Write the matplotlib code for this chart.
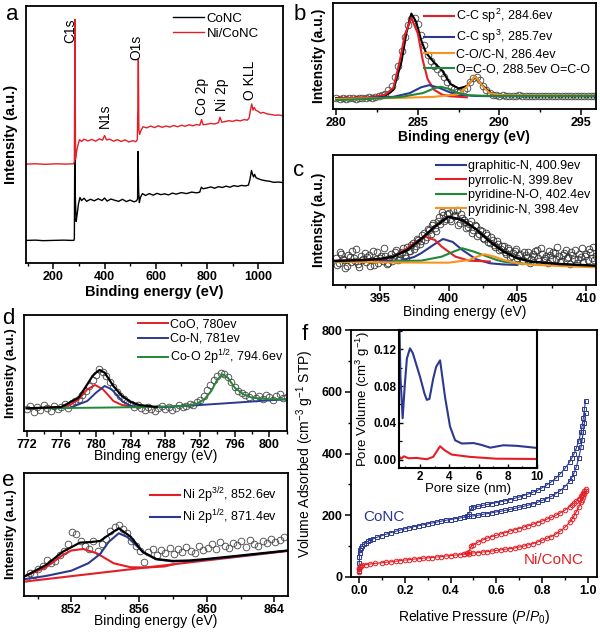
import matplotlib
matplotlib.use('Agg')
import matplotlib.pyplot as plt
import numpy as np
from matplotlib.ticker import MultipleLocator, FormatStrFormatter

plt.rcParams['font.family'] = ['Liberation Sans', 'DejaVu Sans']
plt.rcParams['mathtext.fontset'] = 'custom'
plt.rcParams['mathtext.rm'] = 'Liberation Sans'
plt.rcParams['mathtext.it'] = 'Liberation Sans:italic'
plt.rcParams['mathtext.bf'] = 'Liberation Sans:bold'

RED = '#e41e26'
BLUE = '#2b3990'
GREEN = '#23873a'
ORANGE = '#f7941d'

# ---- panel a: survey spectra (binding energy, intensity a.u.)
a_conc = [(95, 8.8), (130, 8.9), (160, 8.7), (200, 8.8), (240, 8.9), (270, 8.8), (280, 8.8), (282, 9.5),
          (283.5, 41.5), (286, 25), (289, 16.2), (293, 19), (298, 23), (304, 25.5), (310, 24.3), (320, 25.2),
          (330, 24.0), (345, 24.8), (360, 24.2), (375, 25.0), (390, 24.3), (400, 25.3), (410, 24.1),
          (425, 24.9), (440, 24.4), (455, 24.0), (470, 24.8), (485, 23.9), (500, 24.5), (515, 23.8),
          (525, 24.2), (529, 25), (531, 43.4), (533, 28), (536, 23.5), (540, 25.5), (548, 27), (560, 26.3),
          (575, 27), (590, 26.4), (605, 27.1), (620, 26.6), (635, 26.9), (650, 26.5), (665, 27.2),
          (680, 26.8), (700, 27.4), (720, 27.0), (740, 27.6), (760, 27.3), (772, 27.6), (778, 29.5),
          (785, 28.9), (800, 29.2), (815, 29.6), (830, 29.1), (845, 29.7), (860, 29.4), (875, 29.9),
          (890, 29.5), (905, 30.1), (920, 29.8), (935, 30.2), (950, 30.0), (962, 30.3), (968, 32.5),
          (974, 36.0), (978, 34.5), (982, 33.5), (986, 34.5), (992, 33.2), (1000, 32.8), (1015, 32.3),
          (1030, 32.0), (1045, 31.8), (1060, 31.4), (1080, 31.5), (1097, 31.3)]
a_niconc = [(95, 38.5), (130, 38.6), (170, 38.4), (210, 38.6), (250, 38.5), (279, 38.6), (282, 39.5),
            (284.6, 94.8), (286.5, 40.4), (290, 43), (295, 45.5), (302, 48), (310, 47.3), (320, 48.2),
            (335, 47.5), (350, 48.1), (365, 47.4), (380, 48.3), (392, 47.8), (400, 49.6), (408, 47.9),
            (420, 48.2), (435, 47.4), (450, 48.0), (465, 47.3), (480, 47.9), (495, 47.1), (510, 47.6),
            (522, 47.2), (528, 48.0), (530, 60), (532, 79.3), (534, 52), (537, 50), (542, 51.5), (550, 53),
            (565, 52.6), (580, 53.3), (595, 52.7), (610, 53.4), (625, 52.8), (640, 53.3), (655, 52.9),
            (670, 53.5), (685, 53.0), (700, 53.6), (715, 53.2), (730, 53.8), (745, 53.4), (760, 53.9),
            (772, 53.6), (779, 55.8), (785, 53.8), (800, 54.0), (815, 54.3), (830, 54.1), (845, 54.6),
            (851, 56.7), (858, 54.8), (870, 55.0), (885, 55.4), (900, 55.1), (915, 55.6), (930, 55.3),
            (945, 55.8), (958, 55.6), (965, 56.5), (970, 59.5), (975, 61.9), (980, 59.5), (985, 60.5),
            (990, 59.5), (1000, 59.0), (1010, 58.3), (1020, 58.6), (1035, 58.0), (1050, 57.8),
            (1065, 57.5), (1080, 57.6), (1097, 57.3)]
a_peaks = [('C1s', 265, 85.5), ('N1s', 401, 52.5), ('O1s', 525, 79), ('Co 2p', 779, 57.6),
           ('Ni 2p', 857, 59), ('O KLL', 967, 63.5)]

# ---- panel b: C 1s
b_circ = [10.5, 9.8, 10.4, 9.6, 10.2, 10.8, 9.9, 10.3, 10.6, 10.0, 10.9, 10.4, 11.2, 11.8, 12.9, 14.5,
          17.5, 22, 30, 41, 55, 68, 79, 85, 86, 80, 70, 60, 51, 45, 41, 38, 34, 30, 25, 21, 18.5, 16.5,
          16, 17.5, 20, 25, 29, 30, 27, 22, 17.5, 15, 13.5, 12.8, 12.5, 12.9, 12.2, 12.6, 11.9, 12.4,
          12.8, 12.0, 12.5, 11.8, 12.3, 12.7, 12.0, 12.4, 11.9, 12.6, 12.2, 11.8, 12.5, 12.1, 12.7,
          11.9, 12.3, 12.6, 11.8, 12.4, 12.1, 12.7, 11.9, 12.5, 12.2]
b_env = [(280, 10.3), (282, 10.5), (283, 12.5), (283.5, 18), (284, 45), (284.3, 72), (284.6, 90),
         (284.9, 82), (285.2, 65), (285.5, 53), (286, 43.7), (286.5, 36), (287, 23.5), (287.5, 19.4),
         (288, 21.5), (288.5, 30.6), (289, 21.5), (289.5, 14.7), (290, 12.5), (292, 12), (296, 12)]
b_sp2 = [(280, 10), (282, 10.8), (283, 13.5), (283.5, 20), (283.9, 46), (284.2, 70), (284.6, 86),
         (285.0, 71), (285.3, 46), (285.6, 28), (286, 18), (286.5, 13.5), (287, 12), (288, 11)]
b_sp3 = [(282, 10.5), (283.5, 11.5), (284.5, 15), (285.2, 20.5), (285.7, 22.5), (286.3, 20), (287, 15.5),
         (287.5, 13.5), (288.5, 12.3), (290, 12), (292, 12)]
b_co = [(280, 9.4), (284, 10.5), (286, 11.5), (287.5, 14), (288, 21), (288.5, 31), (289, 21),
        (289.4, 15), (290, 13.2), (291, 12.8), (296, 12.5)]
b_oco = [(280, 8.4), (282, 9.5), (284, 11.5), (285.3, 15), (286, 19.5), (286.4, 21), (286.9, 19),
         (287.5, 15), (288, 13), (289, 12.5), (290, 12.3), (296, 12.3)]
b_labels = ['C-C sp$^2$, 284.6ev', 'C-C sp$^3$, 285.7ev', 'C-O/C-N, 286.4ev', 'O=C-O, 288.5ev O=C-O']

# ---- panel c: N 1s (two interleaved scans of circles)
c_circ = [27, 22, 31, 25, 19, 28, 34, 24, 21, 29, 26,
          23, 30, 25, 20, 33, 27, 24, 29, 22, 31,
          28, 35, 26, 33, 30, 38, 34, 42, 39, 45,
          44, 52, 48, 55, 60, 57, 64, 61, 70, 66,
          72, 64, 69, 75, 62, 67, 63, 58, 64, 55,
          59, 51, 54, 46, 50, 42, 45, 38, 41, 36,
          39, 31, 35, 29, 34, 27, 31, 25, 30, 33,
          26, 29, 35, 24, 31, 27, 22, 30, 33, 26,
          29, 24, 32, 27, 21, 30, 35, 26, 28, 23, 31, 36, 27, 25]
c_circ2 = [20, 33, 26, 17, 30, 23, 27, 36, 18, 25, 32,
           28, 19, 34, 26, 22, 29, 37, 21, 27, 24,
           33, 25, 31, 37, 27, 34, 40, 36, 46, 41,
           50, 45, 56, 51, 62, 54, 68, 73, 64, 71,
           66, 74, 70, 60, 71, 65, 57, 61, 52, 60,
           49, 55, 47, 52, 43, 48, 40, 44, 35, 39,
           33, 37, 28, 32, 36, 30, 24, 33, 28, 22,
           31, 34, 27, 37, 25, 29, 34, 26, 32, 38,
           23, 30, 35, 28, 33, 26, 22, 31, 37, 29, 25, 33, 38, 29]
c_env = [(391.6, 24), (394, 25), (395, 26), (396, 28.3), (397, 35), (398, 46), (399, 58.3), (400, 68.3),
         (401, 65), (402, 55.7), (403, 43.3), (404, 33.3), (405, 26.7), (406, 23.3), (408, 21), (410.7, 19.3)]
c_graph = [(395, 24), (396.5, 24.3), (397.5, 28), (398, 31.7), (399, 41), (399.6, 46), (400.3, 43),
           (401, 35), (402, 25.7), (403, 21.7), (404, 20.5), (405, 20)]
c_pyrr = [(391.6, 24), (395, 25.7), (396, 28.3), (397, 36.7), (397.7, 44), (398.3, 48.3), (399, 45),
          (399.5, 38.3), (400.5, 28.3), (401.5, 24.3), (403, 23.5)]
c_pyno = [(396, 24), (398, 24.3), (399.5, 28.3), (400.3, 33), (401, 36.7), (401.8, 33.5), (402.5, 30),
          (403.5, 25), (404, 23.3), (405, 21.7), (406, 21)]
c_pyri = [(391.6, 23.3), (396, 22.5), (400, 22.3), (401.5, 25), (402, 28), (402.6, 30.7), (403.3, 28.5),
          (404, 25), (405, 21.7), (406, 20.3), (408, 19), (410.7, 17.7)]
c_labels = ['graphitic-N, 400.9ev', 'pyrrolic-N, 399.8ev', 'pyridine-N-O, 402.4ev', 'pyridinic-N, 398.4ev']

# ---- panel d: Co 2p
d_circ = [22, 25, 19, 24, 21, 26, 23, 20, 25, 22, 24, 27, 23, 28, 30, 32, 36, 40, 45, 51, 56, 62, 59,
          55, 49, 44, 39, 35, 32, 29, 27, 24, 26, 23, 21, 24, 22, 20, 23, 25, 22, 24, 21, 23, 26, 24,
          25, 27, 26, 29, 31, 35, 41, 46, 51, 55, 58, 57, 54, 49, 44, 40, 38, 36, 34, 37, 33, 35, 32,
          36, 34, 31, 35, 37, 33, 34]
d_env = [(772, 22.7), (776, 24), (778, 33.3), (779, 46.7), (779.6, 55), (780, 58.3), (780.4, 61),
         (781, 58.3), (781.5, 51.7), (782, 45), (783, 35), (784, 29), (785, 26), (787, 24)]
d_coo = [(774, 23.3), (776, 24), (777, 26), (778, 31.7), (779, 41.7), (779.9, 46), (780.8, 41.7),
         (781.5, 35), (782, 30), (783, 26), (784, 24.3)]
d_con = [(775, 22.7), (777, 23.3), (779, 30), (780, 38.3), (781, 45), (781.8, 41.7), (782.5, 35),
         (783, 30), (784, 25), (786, 24), (788, 24), (792, 26), (796, 28.3), (800, 30.7), (802, 31.7)]
d_co2p = [(772, 22.7), (780, 23.3), (786, 24), (790, 25), (791.5, 26.7), (792.5, 31.7), (793.3, 40),
          (794, 51.7), (794.6, 56.7), (795.2, 53.3), (796, 43.3), (797, 36.7), (798, 33.3), (800, 31.7),
          (802, 31.7)]
d_labels = ['CoO, 780ev', 'Co-N, 781ev', 'Co-O 2p$^{1/2}$, 794.6ev']

# ---- panel e: Ni 2p
e_circ = [18, 23, 21, 27, 30, 36, 33, 35, 41, 45, 52, 64, 62, 55, 50, 47, 55, 45, 52, 57, 65, 69, 71,
          67, 63, 55, 50, 45, 34, 44, 47, 41, 46, 43, 48, 42, 47, 44, 49, 45, 43, 50, 46, 48, 52, 47,
          54, 50, 48, 53, 51, 55, 49, 56, 52, 50, 55, 53, 57, 54, 56, 59]
e_base = [(849.2, 14.3), (864.8, 45)]
e_env = [(849.2, 19.3), (850.5, 31), (851.5, 44.3), (852.5, 53.3), (853.2, 54), (853.7, 55), (854.2, 61),
         (854.8, 67.7), (855.5, 59.3), (856.2, 44.3), (857, 37), (858, 35), (859, 35.5), (860, 37),
         (862, 40.5), (864.8, 45.5)]
e_p32 = [(849.2, 19.3), (850.5, 28.7), (851.5, 41), (852.0, 45.5), (852.7, 47), (853.5, 42.7),
         (854.5, 32.7), (855.5, 28.7), (856.5, 28.5), (857.5, 29.5), (858, 31.5)]
e_p12 = [(849.2, 16.7), (850.5, 20), (852, 25.3), (853, 32.7), (853.7, 42), (854.2, 54), (854.8, 62.7),
         (855.3, 59), (855.8, 51), (856.3, 43), (857, 36.7), (858, 34.5), (859, 35), (860, 36.5),
         (862, 40), (864.8, 45.3)]
e_labels = ['Ni 2p$^{3/2}$, 852.6ev', 'Ni 2p$^{1/2}$, 871.4ev']

# ---- panel f: N2 isotherms (P/P0, cm3/g)
f_conc_ads = [(0.0005, 20), (0.001, 45), (0.002, 65), (0.003, 78), (0.005, 88), (0.008, 95), (0.012, 100),
              (0.02, 106), (0.03, 111), (0.04, 116), (0.05, 120), (0.06, 123), (0.08, 129), (0.1, 134),
              (0.12, 139), (0.14, 144), (0.16, 148), (0.18, 152), (0.2, 156), (0.22, 159), (0.24, 163),
              (0.26, 166), (0.28, 169), (0.3, 172), (0.32, 175), (0.34, 178), (0.36, 181), (0.38, 184),
              (0.40, 186), (0.42, 189), (0.44, 191), (0.46, 194), (0.48, 196), (0.50, 198), (0.52, 200),
              (0.54, 203), (0.56, 205), (0.58, 208), (0.60, 211), (0.62, 213), (0.64, 216), (0.66, 219),
              (0.68, 222), (0.70, 226), (0.72, 229), (0.74, 233), (0.76, 237), (0.78, 242), (0.80, 248),
              (0.82, 254), (0.84, 261), (0.86, 270), (0.88, 280), (0.90, 293), (0.92, 310), (0.93, 322),
              (0.94, 338), (0.95, 358), (0.96, 385), (0.97, 420), (0.975, 445), (0.98, 470),
              (0.985, 500), (0.99, 530)]
f_conc_des = [(0.99, 571), (0.985, 545), (0.98, 515), (0.975, 490), (0.97, 470), (0.96, 440), (0.95, 418),
              (0.94, 400), (0.93, 385), (0.92, 372), (0.90, 352), (0.88, 335), (0.86, 320), (0.84, 308),
              (0.82, 298), (0.80, 289), (0.78, 281), (0.76, 275), (0.74, 269), (0.72, 264), (0.70, 259),
              (0.68, 255), (0.66, 251), (0.64, 247), (0.62, 244), (0.60, 241), (0.58, 238), (0.56, 235),
              (0.54, 232), (0.52, 229), (0.50, 226), (0.49, 222), (0.48, 205), (0.47, 198), (0.46, 195)]
f_ni_ads = [(0.0005, 15), (0.001, 25), (0.002, 30), (0.004, 33), (0.008, 36), (0.015, 38), (0.03, 40),
            (0.05, 42), (0.07, 44), (0.1, 46), (0.12, 48), (0.14, 49), (0.16, 51), (0.18, 53), (0.2, 55),
            (0.22, 56), (0.24, 58), (0.26, 59), (0.28, 61), (0.3, 62), (0.32, 63), (0.34, 65), (0.36, 66),
            (0.38, 68), (0.4, 69), (0.42, 71), (0.44, 72), (0.46, 74), (0.48, 76), (0.5, 78), (0.52, 79),
            (0.54, 81), (0.56, 82), (0.58, 84), (0.6, 86), (0.62, 88), (0.64, 90), (0.66, 92), (0.68, 94),
            (0.7, 97), (0.72, 100), (0.74, 104), (0.76, 108), (0.78, 113), (0.8, 119), (0.82, 125),
            (0.84, 131), (0.86, 139), (0.88, 149), (0.9, 161), (0.92, 177), (0.93, 187), (0.94, 198),
            (0.95, 212), (0.96, 226), (0.97, 242), (0.975, 251), (0.98, 260), (0.985, 270), (0.99, 278)]
f_ni_des = [(0.99, 285), (0.985, 280), (0.98, 273), (0.975, 267), (0.97, 262), (0.96, 254), (0.95, 247),
            (0.94, 240), (0.93, 234), (0.92, 228), (0.9, 217), (0.88, 208), (0.86, 200), (0.84, 193),
            (0.82, 187), (0.8, 181), (0.78, 176), (0.76, 171), (0.74, 166), (0.72, 162), (0.7, 157),
            (0.68, 153), (0.66, 149), (0.64, 144), (0.62, 140), (0.6, 135), (0.58, 131), (0.56, 126),
            (0.54, 120), (0.52, 113), (0.5, 104), (0.49, 100), (0.48, 82), (0.47, 77), (0.46, 75)]
# inset: pore size distribution (nm, cm3/g)
psd_conc = [(0.56, 0.17), (0.66, 0.09), (0.81, 0.045), (0.95, 0.08), (1.1, 0.11), (1.31, 0.121),
            (1.5, 0.116), (2.0, 0.09), (2.3, 0.072), (2.46, 0.065), (2.64, 0.066), (2.9, 0.088),
            (3.1, 0.101), (3.37, 0.108), (3.71, 0.068), (4.05, 0.036), (4.4, 0.021), (4.86, 0.0175),
            (5.66, 0.018), (6.2, 0.016), (6.8, 0.013), (7.7, 0.0156), (8.6, 0.015), (10.0, 0.0127)]
psd_ni = [(0.56, 0.0036), (0.7, 0.001), (0.9, 0.0036), (1.2, 0.0015), (1.77, 0.0018), (2.46, 0.0004),
          (2.9, 0.003), (3.37, 0.0145), (3.7, 0.010), (4.16, 0.0055), (5.4, 0.003), (7.2, 0.001),
          (10.0, 0.0007)]


def xy(pts):
    arr = np.array(pts, dtype=float)
    return arr[:, 0], arr[:, 1]


def style(ax, xlim, ylim, major, minor):
    ax.set_xlim(*xlim)
    ax.set_ylim(*ylim)
    ax.set_yticks([])
    ax.xaxis.set_major_locator(MultipleLocator(major))
    ax.xaxis.set_minor_locator(MultipleLocator(minor))
    ax.tick_params(axis='x', which='major', direction='out', length=4, width=1.1, labelsize=9, pad=1.5)
    ax.tick_params(axis='x', which='minor', direction='out', length=2.5, width=1.0)
    for lab in ax.get_xticklabels():
        lab.set_fontweight('bold')
    for s in ax.spines.values():
        s.set_linewidth(1.3)


def legend(ax, handles, labels, anchor, fs=9):
    ax.legend(handles, labels, loc='upper right', bbox_to_anchor=anchor, frameon=False, fontsize=fs,
              handlelength=2.4, handletextpad=0.15, labelspacing=0.2, borderpad=0, borderaxespad=0)


fig = plt.figure(figsize=(6.0, 6.33), dpi=100)

# a
ax = fig.add_axes([0.0433, 0.5845, 0.4283, 0.406])
x, y = xy(a_conc)
l1, = ax.plot(x, y, color='black', lw=1.0)
x, y = xy(a_niconc)
l2, = ax.plot(x, y, color=RED, lw=1.0)
for name, px, py in a_peaks:
    ax.text(px, py, name, rotation=90, ha='center', va='bottom', fontsize=10)
style(ax, (93, 1097), (0, 100), 200, 100)
ax.set_xlabel('Binding energy (eV)', fontsize=10.5, fontweight='bold', labelpad=2)
ax.set_ylabel('Intensity (a.u.)', fontsize=10.5, fontweight='bold', labelpad=6)
legend(ax, [l1, l2], ['CoNC', 'Ni/CoNC'], (0.905, 0.975), fs=9.5)

# b
ax = fig.add_axes([0.555, 0.8278, 0.438, 0.1675])
bx = 280 + 0.2 * np.arange(len(b_circ))
ax.plot(bx, b_circ, 'o', mfc='none', mec='#444444', ms=4.8, mew=0.6)
x, y = xy(b_env)
ax.plot(x, y, color='black', lw=1.5)
hs = []
for pts, c in [(b_sp2, RED), (b_sp3, BLUE), (b_co, ORANGE), (b_oco, GREEN)]:
    x, y = xy(pts)
    h, = ax.plot(x, y, color=c, lw=1.5)
    hs.append(h)
style(ax, (279.8, 295.9), (0, 100), 5, 2.5)
ax.set_xlabel('Binding energy (eV)', fontsize=10, fontweight='bold', labelpad=1)
ax.set_ylabel('Intensity (a.u.)', fontsize=10, fontweight='bold', labelpad=5)
legend(ax, hs, b_labels, (0.977, 0.96))

# c
ax = fig.add_axes([0.555, 0.5498, 0.438, 0.2054])
cx = 391.8 + 0.2 * np.arange(len(c_circ))
ax.plot(cx, c_circ, 'o', mfc='none', mec='#333333', ms=4.8, mew=0.6)
cx2 = 391.9 + 0.2 * np.arange(len(c_circ2))
ax.plot(cx2, c_circ2, 'o', mfc='none', mec='#333333', ms=4.8, mew=0.6)
hs = []
for pts, c in [(c_graph, BLUE), (c_pyrr, RED), (c_pyno, GREEN), (c_pyri, ORANGE)]:
    x, y = xy(pts)
    h, = ax.plot(x, y, color=c, lw=1.5)
    hs.append(h)
x, y = xy(c_env)
ax.plot(x, y, color='black', lw=1.8)
style(ax, (391.6, 410.7), (0, 130), 5, 2.5)
ax.set_xlabel('Binding energy (eV)', fontsize=10, labelpad=0)
ax.set_ylabel('Intensity (a.u.)', fontsize=10, fontweight='bold', labelpad=5)
legend(ax, hs, c_labels, (0.977, 0.96))

# d
ax = fig.add_axes([0.04, 0.3191, 0.438, 0.1833])
dx = 772 + 0.4 * np.arange(len(d_circ))
ax.plot(dx, d_circ, 'o', mfc='none', mec='#444444', ms=4.8, mew=0.6)
hs = []
for pts, c in [(d_coo, RED), (d_con, BLUE), (d_co2p, GREEN)]:
    x, y = xy(pts)
    h, = ax.plot(x, y, color=c, lw=1.4)
    hs.append(h)
x, y = xy(d_env)
ax.plot(x, y, color='black', lw=1.6)
style(ax, (771.7, 802), (0, 116), 4, 2)
ax.set_xlabel('Binding energy (eV)', fontsize=10, labelpad=-1)
ax.set_ylabel('Intensity (a.u.)', fontsize=9.5, fontweight='bold', labelpad=5)
legend(ax, hs, d_labels, (0.985, 0.97))

# e
ax = fig.add_axes([0.04, 0.0585, 0.44, 0.1943])
ex = 849.3 + 0.25 * np.arange(len(e_circ))
ax.plot(ex, e_circ, 'o', mfc='none', mec='#444444', ms=4.8, mew=0.6)
x, y = xy(e_base)
ax.plot(x, y, color=RED, lw=1.5)
hs = []
for pts, c in [(e_p32, RED), (e_p12, BLUE)]:
    x, y = xy(pts)
    h, = ax.plot(x, y, color=c, lw=1.5)
    hs.append(h)
x, y = xy(e_env)
ax.plot(x, y, color='black', lw=1.6)
style(ax, (849.2, 864.8), (0, 123), 4, 2)
ax.set_xlabel('Binding energy (eV)', fontsize=10, labelpad=-1)
ax.set_ylabel('Intensity (a.u.)', fontsize=9.5, fontweight='bold', labelpad=5)
legend(ax, hs, e_labels, (0.958, 0.9))

# f
ax = fig.add_axes([0.585, 0.0885, 0.41, 0.390])
for pts, c, m in [(f_conc_ads, BLUE, 's'), (f_conc_des, BLUE, 's'), (f_ni_ads, RED, 'o'), (f_ni_des, RED, 'o')]:
    x, y = xy(pts)
    ax.plot(x, y, color=c, marker=m, mfc='none', mec=c, ms=3.3, mew=0.7, lw=0.8)
ax.set_xlim(-0.035, 1.04)
ax.set_ylim(0, 800)
ax.xaxis.set_major_locator(MultipleLocator(0.2))
ax.xaxis.set_minor_locator(MultipleLocator(0.1))
ax.yaxis.set_major_locator(MultipleLocator(200))
ax.yaxis.set_minor_locator(MultipleLocator(100))
ax.tick_params(which='major', direction='out', length=4, width=1.1, labelsize=9, pad=2)
ax.tick_params(which='minor', direction='out', length=2.5, width=1.0)
for lab in ax.get_xticklabels() + ax.get_yticklabels():
    lab.set_fontweight('bold')
for s in ax.spines.values():
    s.set_linewidth(1.3)
ax.set_xlabel('Relative Pressure ($P$/$P_0$)', fontsize=10, labelpad=8)
ax.set_ylabel('Volume Adsorbed (cm$^{-3}$ g$^{-1}$ STP)', fontsize=10, labelpad=4)
ax.text(0.017, 195, 'CoNC', color=BLUE, fontsize=11, va='center')
ax.text(0.72, 56, 'Ni/CoNC', color=RED, fontsize=11, va='center')

ins = fig.add_axes([0.665, 0.2607, 0.23, 0.218])
x, y = xy(psd_conc)
ins.plot(x, y, color=BLUE, lw=1.5)
x, y = xy(psd_ni)
ins.plot(x, y, color=RED, lw=1.5)
ins.set_xlim(0.56, 10)
ins.set_ylim(-0.0091, 0.141)
ins.xaxis.set_major_locator(MultipleLocator(2))
ins.xaxis.set_minor_locator(MultipleLocator(1))
ins.yaxis.set_major_locator(MultipleLocator(0.04))
ins.yaxis.set_minor_locator(MultipleLocator(0.02))
ins.yaxis.set_major_formatter(FormatStrFormatter('%.2f'))
ins.tick_params(which='major', direction='in', length=3, width=1.0, labelsize=8.5, pad=2)
ins.tick_params(which='minor', direction='in', length=1.8, width=0.9)
for lab in ins.get_xticklabels() + ins.get_yticklabels():
    lab.set_fontweight('bold')
for s in ins.spines.values():
    s.set_linewidth(1.5)
ins.set_xlabel('Pore size (nm)', fontsize=9.5, labelpad=0)
ins.set_ylabel('Pore Volume (cm$^3$ g$^{-1}$)', fontsize=9.5, labelpad=1)

# panel letters
for letter, px, py in [('a', 12, 14), ('b', 300, 15), ('c', 299, 170), ('d', 8, 318), ('e', 8, 481),
                       ('f', 305, 334)]:
    fig.text(px / 600, 1 - py / 633, letter, fontsize=16, ha='center', va='center')

fig.savefig('out.png', dpi=100)
